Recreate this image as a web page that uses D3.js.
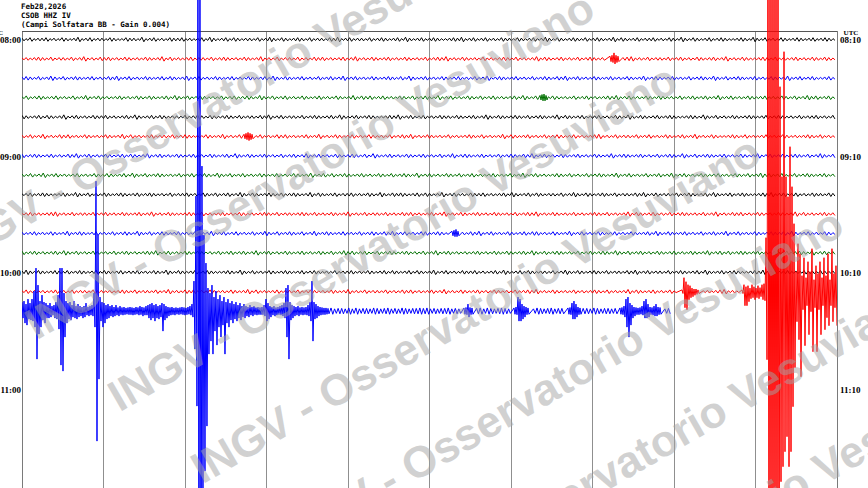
<!DOCTYPE html>
<html><head><meta charset="utf-8">
<script src="https://cdn.jsdelivr.net/npm/d3@7"></script>
<style>html,body{margin:0;padding:0;background:#fff;} svg{display:block}</style>
</head><body>
<svg id="chart" width="868" height="488"></svg>
<script>
// ---------- DATA ----------
const headerLines = ["Feb28,2026", "CSOB HHZ IV", "(Campi Solfatara BB  - Gain 0.004)"];
const leftLabels = ["08:00", "09:00", "10:00", "11:00"];
const rightLabels = ["08:10", "09:10", "10:10", "11:10"];
const labelTraceIndex = [0, 6, 12, 18];
const minuteGrid = [1, 2, 3, 4, 5, 6, 7, 8, 9];
const traceColors = ["#000000", "#ff0000", "#0000ff", "#007000"];
const traceDurations = [10, 10, 10, 10, 10, 10, 10, 10, 10, 10, 10, 10, 10, 10, 7.9755];

// amplitude code tables (counts): '0'-'9' = 0..4.05, letters = larger values
const lowerVals = [5,6,7,8,9,10,12,14,16,18,20,23,26,30,34,38,43,48,54,60,68,76,85,95,105,115];
const upperVals = [130,145,160,175,190,205,220,240,260,280,300,320,350,400];

// background noise envelope per trace (one char per bin)
const traceNoise = [
"324233423243235234233243224332523423243342323425323424323324235324323432423324352342332423432342532342343223435234234232433243234235324323432423432352432342334232432532432342343223432532423243234323423432",
"232343242332423523243423243232432352423234233242343232432352324233242324342323423523243234232432324234352324323242323432423235243234232423432342323452324233242342324323423523243223432423234232432432",
"343242353242343234232435234232432342432352342324323423243234253243234232423423523423243234324253234232432342324235234323423242343243523423243234232432352343234232423432532423432342324323523423422342",
"242343234232423523423234232432432342532423432324234234325324234232432342324323524342342324324234325234232432423423234253242324323242342323435234232432432324234234235234232432342324324235342342",
"432342432352342324334232342532342432332423532432343242332435234233242343234253234234322343523423423243324323423532432343242343235243234233423243253243234234322343253242324323432342343232423342324",
"324235232434232432324323524232342332423432324323523242332423243423234235232432342324323242343523243232423234324232352432342324234323423234523242332423423243234235232432234324232342324323234324232",
"423432342324352342324323424323523423243234232432342532432342324234235234232432343242532342324323423242352343234232423432435234232432342324323523432342324234325324234323423243235234234234324235324",
"324235234232342324324323425324234323242342343253242342324323423243235234242343234232432423432523423243242342323423242352342323432423242343235234232423423523423243234232432423534234224234323423",
"234234322343253242324323432342343232423342324324234235324323432423432352432342334232432532434323424323523423243342323425323424323324235324323432423324352342332423432342532342343223435234234232433243",
"234232345232423324234232432342352324322343242323423243232343242332343242324323523242332423243423234235232432342324323242343523243232423234324232352432342324234323242352324342324323243235242323423",
"323423243235234323423242343253242343234232432352342342324235324234324235234323423242343243523423244234323423243523423243234244232432352342324323423243234253243234232423423523423243234324253234232432",
"423423234253242324323242342323435234232432432324234234235234232432342324324235342342242343234232423523423232342324324323425324234323242342343253242342324323423243235234242343234232432423432523423",
"353243234324234323524323423342324325324323423432234325324232432343234234323242334232432342432342432352342324334232342532342432332423532432343242332435234233242343234253234234322343523423423243324323",
"242323234232423324232323432423324235232434232432324323524232342332423432324323523242332423243423234235232432342324323242343523243232423234324232352432342324234323423234523242332423423243234235232",
"566575657665756657567565676566576567565765765656657656657567566567657665657665756567565756657575665765675657656676756566756567566757656765657566576567566575756657656656756656575665756"
];

// event segments: [trace, startMinute, endMinute, upper envelope codes, lower envelope codes]
const eventSegments = [
  [14, 0.000, 1.325, "efcgdgkqmfiedbdabeiqqjfdebfaca9ad9abjAvhedbcab9b8a8978", "cghdefirliegccb9cdjstmgdebcdbacb9a9aiAufigdcaba9a89878"],
  [14, 1.325, 2.110, "98798a98abcdbcabdca98978789879ac", "898798a99cecfcdbkeca98978789879b"],
  [14, 2.110, 2.920, "nzNNBvrljmhkgifhegdfcebdaca9b9a89", "pxNNECzqnqkoimhqgiegdfcebcab9a898"],
  [14, 2.920, 3.779, "89bgda9a89abdlmeba9a8989beneca98776", "88afdb9a989acmreca9a8989afndca98876"],
  [14, 5.423, 5.546, "78c87", "78b87"],
  [14, 6.037, 6.233, "79hgca97", "78ffdb87"],
  [14, 6.699, 6.871, "78dfc97", "78ddb87"],
  [14, 7.337, 7.853, "78aghdb9878afgc98ac98", "78bimhca8879ccb89aa87"],
  [13, 8.098, 8.319, "4hfcb8664", "4ijdba864"],
  [13, 8.834, 9.129, "4cab8ca8b9cd", "4hhfcbdbcade"],
  [13, 9.129, 10.012, "sNNNNNNFzHzxByukrpiohnkqgmjnhoipgqjm", "uNNNNNNEDCBDCzvnrwjshqktitjqhpmohnio"],
  [1, 7.215, 7.337, "68b86", "68a86"],
  [5, 2.724, 2.847, "57975", "57975"],
  [10, 5.276, 5.374, "5795", "5775"],
  [3, 6.356, 6.454, "5785", "5775"]
];
const watermarkText = "INGV - Osservatorio Vesuviano";

// ---------- DRAW ----------
const svg = d3.select("#chart");
const W = 868, H = 488;
const x = d3.scaleLinear().domain([0, 10]).range([22, 837]);
const yRow = d3.scaleLinear().domain([0, 1]).range([39.5, 58.9]);
const amp = d3.scaleLinear().domain([0, 1]).range([0, -1]);

function decode(ch) {
  const c = ch.charCodeAt(0);
  if (c >= 48 && c <= 57) return (c - 48) * 0.45;
  if (c >= 97 && c <= 122) return lowerVals[c - 97];
  if (c >= 65 && c <= 90) return upperVals[Math.min(c - 65, upperVals.length - 1)];
  return 0;
}

// header
svg.append("g").selectAll("text").data(headerLines).join("text")
  .attr("x", 21).attr("y", (d, i) => 8.5 + i * 9)
  .attr("font-family", "DejaVu Sans Mono").attr("font-weight", "bold")
  .attr("font-size", 7.5).attr("fill", "#000").text(d => d);

// grid
const grid = svg.append("g");
grid.selectAll("line.v").data(minuteGrid).join("line")
  .attr("x1", d => x(d)).attr("x2", d => x(d)).attr("y1", 31).attr("y2", H)
  .attr("stroke", "#8f8f8f").attr("stroke-width", 1).attr("shape-rendering", "crispEdges");
grid.selectAll("line.b").data([0, 10]).join("line")
  .attr("x1", d => x(d)).attr("x2", d => x(d)).attr("y1", 31).attr("y2", H)
  .attr("stroke", "#7a7a7a").attr("stroke-width", 1).attr("shape-rendering", "crispEdges");
grid.append("line").attr("x1", x(0)).attr("x2", x(10)).attr("y1", 31).attr("y2", 31)
  .attr("stroke", "#555").attr("stroke-width", 1).attr("shape-rendering", "crispEdges");

// axes labels
const leftAxis = d3.axisLeft(yRow).tickValues(labelTraceIndex).tickSize(0).tickPadding(0)
  .tickFormat((d, i) => leftLabels[i]);
const gl = svg.append("g").attr("transform", "translate(21,0)").call(leftAxis);
const rightAxis = d3.axisRight(yRow).tickValues(labelTraceIndex).tickSize(0).tickPadding(0)
  .tickFormat((d, i) => rightLabels[i]);
const gr = svg.append("g").attr("transform", "translate(840,0)").call(rightAxis);
[gl, gr].forEach(g => {
  g.select(".domain").remove();
  g.selectAll("text").attr("font-family", "Liberation Serif").attr("font-weight", "bold")
    .attr("font-size", 9).attr("fill", "#000").attr("dy", "0.38em");
});
svg.append("text").attr("x", 851).attr("y", 35.2).attr("text-anchor", "middle")
  .attr("font-family", "Liberation Serif").attr("font-weight", "bold").attr("font-size", 7).text("UTC");
svg.append("text").attr("x", 3).attr("y", 35.2).attr("text-anchor", "end")
  .attr("font-family", "Liberation Serif").attr("font-weight", "bold").attr("font-size", 7).text("UTC");

// traces
svg.append("clipPath").attr("id", "clipx").append("rect")
  .attr("x", 22).attr("y", 0).attr("width", 815).attr("height", H);
const tg = svg.append("g").attr("clip-path", "url(#clipx)");
const line = d3.line().x(d => x(d[0])).y(d => d[1]);

traceNoise.forEach((noise, k) => {
  const dur = traceDurations[k];
  const segs = eventSegments.filter(s => s[0] === k);
  const bins = [];
  const n = noise.length, dt = dur / n;
  for (let i = 0; i < n; i++) {
    const t0 = i * dt, t1 = t0 + dt;
    if (segs.some(s => t1 > s[1] && t0 < s[2])) continue;
    const v = decode(noise[i]);
    bins.push({ t0, t1, up: v, dn: v });
  }
  segs.forEach(s => {
    const m = s[3].length, d = (s[2] - s[1]) / m;
    for (let j = 0; j < m; j++) {
      bins.push({ t0: s[1] + j * d, t1: s[1] + (j + 1) * d, up: decode(s[3][j]), dn: decode(s[4][j]) });
    }
  });
  bins.sort((a, b) => a.t0 - b.t0);
  const base = yRow(k);
  const pts = [];
  bins.forEach(b => {
    pts.push([b.t0, base + amp(b.up)]);
    pts.push([(b.t0 + b.t1) / 2, base + amp(-b.dn)]);
  });
  tg.append("path").attr("d", line(pts)).attr("fill", "none")
    .attr("stroke", traceColors[k % 4]).attr("stroke-width", 1);
});

// watermark (diagonal tiled rows)
const wm = svg.append("g").attr("pointer-events", "none");
d3.range(-2, 5).forEach(k => {
  wm.append("text").attr("transform", `translate(${119.5 + 83 * k},${412.5 + 72 * k}) rotate(-30)`)
    .attr("font-family", "Liberation Sans").attr("font-weight", "bold").attr("font-size", 44)
    .attr("fill", "#a4a4a4").attr("fill-opacity", 0.5).text(watermarkText);
});
</script>
</body></html>
